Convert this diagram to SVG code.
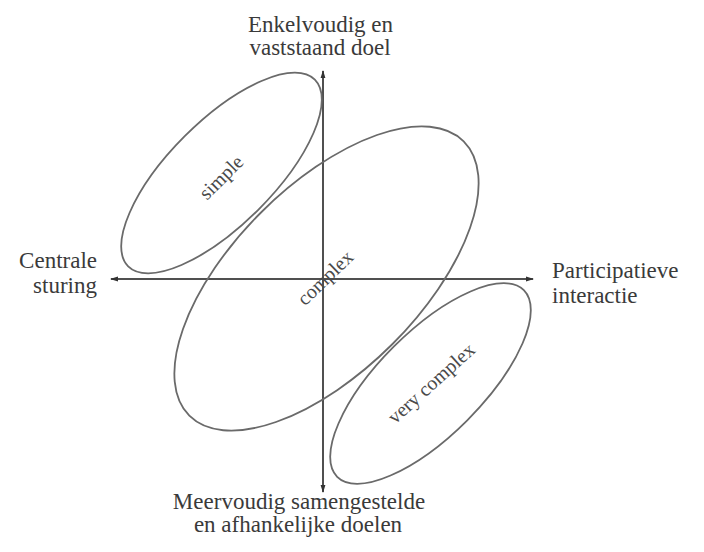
<svg xmlns="http://www.w3.org/2000/svg" width="704" height="552" viewBox="0 0 704 552">
  <style>
    .lbl { font-family: "Liberation Serif", "Times New Roman", serif; font-size: 23px; fill: #3a3a3a; }
    .tag { font-family: "Liberation Serif", "Times New Roman", serif; font-size: 20px; fill: #4a4a4a; text-anchor: middle; dominant-baseline: central; }
    .axis { stroke: #505050; stroke-width: 2; fill: none; }
    .oval { stroke: #6a6a6a; stroke-width: 1.8; fill: none; }
  </style>
  <defs>
    <marker id="tip" viewBox="0 0 8 6" refX="7" refY="3" markerWidth="8" markerHeight="6" markerUnits="userSpaceOnUse" orient="auto-start-reverse">
      <path d="M0,0.6 L8,3 L0,5.4 Z" fill="#333"/>
    </marker>
  </defs>
  <rect width="704" height="552" fill="#ffffff"/>

  <!-- axes -->
  <g id="connectors">
    <line class="axis" x1="323" y1="492" x2="323" y2="71" marker-start="url(#tip)" marker-end="url(#tip)"/>
    <line class="axis" x1="111" y1="279" x2="533" y2="279" marker-start="url(#tip)" marker-end="url(#tip)"/>
  </g>

  <!-- axis labels -->
  <g id="top-label">
    <text class="lbl" x="320.5" y="32" text-anchor="middle">Enkelvoudig en</text>
    <text class="lbl" x="320" y="55" text-anchor="middle">vaststaand doel</text>
  </g>
  <g id="left-label">
    <text class="lbl" x="97" y="268" text-anchor="end">Centrale</text>
    <text class="lbl" x="97" y="293" text-anchor="end">sturing</text>
  </g>
  <g id="right-label">
    <text class="lbl" x="552" y="278">Participatieve</text>
    <text class="lbl" x="552" y="303">interactie</text>
  </g>
  <g id="bottom-label">
    <text class="lbl" x="299" y="509" text-anchor="middle">Meervoudig samengestelde</text>
    <text class="lbl" x="298" y="532" text-anchor="middle">en afhankelijke doelen</text>
  </g>

  <!-- regions -->
  <g id="simple">
    <ellipse class="oval" cx="221.5" cy="173" rx="132" ry="52" transform="rotate(-45 221.5 173)"/>
    <text class="tag" transform="translate(221 177) rotate(-45)">simple</text>
  </g>
  <g id="complex">
    <ellipse class="oval" cx="326.5" cy="278.5" rx="194" ry="93" transform="rotate(-45 326.5 278.5)"/>
    <text class="tag" transform="translate(325 277.5) rotate(-44)">complex</text>
  </g>
  <g id="very-complex">
    <ellipse class="oval" cx="430.5" cy="383.5" rx="132" ry="52" transform="rotate(-45 430.5 383.5)"/>
    <text class="tag" transform="translate(431 383) rotate(-42)">very complex</text>
  </g>
</svg>
